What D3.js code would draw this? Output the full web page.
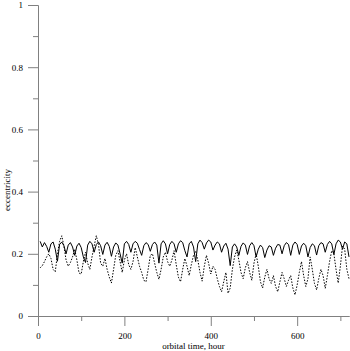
<!DOCTYPE html>
<html>
<head>
<meta charset="utf-8">
<script src="https://cdn.jsdelivr.net/npm/d3@7"></script>
<style>
  body { margin: 0; background: #fff; }
  text { font-family: "Liberation Serif", "DejaVu Serif", serif; }
  .axis path, .axis line { stroke: #808080; }
</style>
</head>
<body>
<div id="chart"></div>
<script>
// orbital time samples, hours
const hours = [
  5, 10, 15, 20, 25, 30, 35, 40, 45, 50,
  55, 60, 65, 70, 75, 80, 85, 90, 95, 100,
  105, 110, 115, 120, 125, 130, 135, 140, 145, 150,
  155, 160, 165, 170, 175, 180, 185, 190, 195, 200,
  205, 210, 215, 220, 225, 230, 235, 240, 245, 250,
  255, 260, 265, 270, 275, 280, 285, 290, 295, 300,
  305, 310, 315, 320, 325, 330, 335, 340, 345, 350,
  355, 360, 365, 370, 375, 380, 385, 390, 395, 400,
  405, 410, 415, 420, 425, 430, 435, 440, 445, 450,
  455, 460, 465, 470, 475, 480, 485, 490, 495, 500,
  505, 510, 515, 520, 525, 530, 535, 540, 545, 550,
  555, 560, 565, 570, 575, 580, 585, 590, 595, 600,
  605, 610, 615, 620, 625, 630, 635, 640, 645, 650,
  655, 660, 665, 670, 675, 680, 685, 690, 695, 700,
  705, 710, 715, 720
];

// solid curve
const eccSolid = [
  0.240, 0.222, 0.236, 0.224, 0.205, 0.232, 0.238, 0.215, 0.176, 0.230,
  0.238, 0.226, 0.200, 0.228, 0.236, 0.222, 0.195, 0.225, 0.234, 0.220,
  0.190, 0.172, 0.228, 0.240, 0.232, 0.205, 0.230, 0.238, 0.226, 0.198,
  0.228, 0.237, 0.224, 0.192, 0.222, 0.235, 0.228, 0.200, 0.170, 0.232,
  0.240, 0.230, 0.205, 0.232, 0.240, 0.234, 0.214, 0.195, 0.226, 0.236,
  0.230, 0.208, 0.230, 0.238, 0.228, 0.170, 0.232, 0.242, 0.232, 0.200,
  0.230, 0.240, 0.232, 0.205, 0.232, 0.242, 0.236, 0.210, 0.190, 0.232,
  0.240, 0.222, 0.175, 0.232, 0.244, 0.236, 0.215, 0.235, 0.244, 0.238,
  0.212, 0.228, 0.238, 0.232, 0.205, 0.225, 0.234, 0.215, 0.162, 0.222,
  0.232, 0.222, 0.195, 0.224, 0.235, 0.228, 0.198, 0.226, 0.236, 0.226,
  0.190, 0.215, 0.228, 0.220, 0.188, 0.212, 0.226, 0.222, 0.195, 0.218,
  0.230, 0.228, 0.200, 0.226, 0.236, 0.230, 0.195, 0.228, 0.238, 0.230,
  0.198, 0.225, 0.234, 0.226, 0.190, 0.220, 0.232, 0.226, 0.196, 0.226,
  0.236, 0.232, 0.205, 0.230, 0.240, 0.232, 0.198, 0.232, 0.244, 0.238,
  0.215, 0.238, 0.232, 0.190
];

// dotted curve
const eccDotted = [
  0.155, 0.162, 0.175, 0.190, 0.200, 0.185, 0.150, 0.142, 0.200, 0.240,
  0.258, 0.225, 0.180, 0.160, 0.172, 0.190, 0.215, 0.180, 0.138, 0.135,
  0.175, 0.205, 0.170, 0.150, 0.190, 0.225, 0.258, 0.230, 0.170, 0.160,
  0.185, 0.150, 0.125, 0.106, 0.150, 0.195, 0.210, 0.175, 0.140, 0.180,
  0.200, 0.165, 0.150, 0.175, 0.220, 0.190, 0.160, 0.140, 0.115, 0.110,
  0.150, 0.195, 0.200, 0.170, 0.140, 0.118, 0.150, 0.190, 0.205, 0.175,
  0.160, 0.180, 0.210, 0.165, 0.125, 0.110, 0.150, 0.185, 0.160, 0.130,
  0.165, 0.195, 0.208, 0.180, 0.140, 0.112, 0.160, 0.195, 0.170, 0.135,
  0.160, 0.150, 0.120, 0.095, 0.078, 0.110, 0.140, 0.073, 0.090, 0.150,
  0.190, 0.212, 0.180, 0.140, 0.120, 0.155, 0.175, 0.140, 0.115, 0.170,
  0.200, 0.160, 0.110, 0.090, 0.125, 0.150, 0.120, 0.105, 0.130, 0.095,
  0.078, 0.110, 0.140, 0.120, 0.095, 0.115, 0.130, 0.090, 0.068, 0.100,
  0.140, 0.175, 0.130, 0.095, 0.120, 0.190, 0.150, 0.105, 0.084, 0.120,
  0.150, 0.130, 0.089, 0.130, 0.175, 0.210, 0.200, 0.150, 0.106, 0.160,
  0.225, 0.215, 0.150, 0.120
];

const xMajor = [0, 200, 400, 600];
const xMinor = [100, 300, 500, 700];
const yMajor = [0, 0.2, 0.4, 0.6, 0.8, 1];
const yMinor = [0.1, 0.3, 0.5, 0.7, 0.9];
const xTitle = "orbital time, hour";
const yTitle = "eccentricity";

const width = 350, height = 351;
const margin = {top: 5, right: 1, bottom: 35, left: 38};
const fontSize = 9;

const svg = d3.select("#chart").append("svg")
  .attr("width", width)
  .attr("height", height);

const x = d3.scaleLinear().domain([0, 720]).range([margin.left, width - margin.right]);
const y = d3.scaleLinear().domain([0, 1]).range([height - margin.bottom, margin.top]);

// minor ticks first, then major ticks with labels
svg.append("g").attr("class", "axis")
  .attr("transform", `translate(0,${y(0)})`)
  .call(d3.axisBottom(x).tickValues(xMinor).tickSize(5).tickSizeOuter(0).tickFormat(""));
const gx = svg.append("g").attr("class", "axis")
  .attr("transform", `translate(0,${y(0)})`)
  .call(d3.axisBottom(x).tickValues(xMajor).tickSize(10).tickSizeOuter(0).tickPadding(7));
gx.selectAll("text").attr("font-size", fontSize).attr("fill", "#000")
  .style("font-family", "'Liberation Serif', serif");

svg.append("g").attr("class", "axis")
  .attr("transform", `translate(${x(0)},0)`)
  .call(d3.axisLeft(y).tickValues(yMinor).tickSize(5).tickSizeOuter(0).tickFormat(""));
const gy = svg.append("g").attr("class", "axis")
  .attr("transform", `translate(${x(0)},0)`)
  .call(d3.axisLeft(y).tickValues(yMajor).tickSize(10).tickSizeOuter(0).tickPadding(5)
    .tickFormat(d => d === 0 || d === 1 ? String(d) : d3.format(".1f")(d)));
gy.selectAll("text").attr("font-size", fontSize).attr("fill", "#000")
  .style("font-family", "'Liberation Serif', serif");

svg.selectAll(".axis .domain").attr("stroke", "#808080");

const line = d3.line()
  .x((d, i) => x(hours[i]))
  .y(d => y(d));

svg.append("path")
  .datum(eccDotted)
  .attr("d", line)
  .attr("fill", "none")
  .attr("stroke", "#000")
  .attr("stroke-width", 1)
  .attr("stroke-dasharray", "1.5,1.5");

svg.append("path")
  .datum(eccSolid)
  .attr("d", line)
  .attr("fill", "none")
  .attr("stroke", "#000")
  .attr("stroke-width", 1);

// axis titles
svg.append("text")
  .attr("x", (x(0) + x(720)) / 2)
  .attr("y", 349)
  .attr("text-anchor", "middle")
  .attr("font-size", fontSize)
  .text(xTitle);

svg.append("text")
  .attr("transform", `translate(10,190) rotate(-90)`)
  .attr("text-anchor", "middle")
  .attr("font-size", fontSize)
  .text(yTitle);
</script>
</body>
</html>
